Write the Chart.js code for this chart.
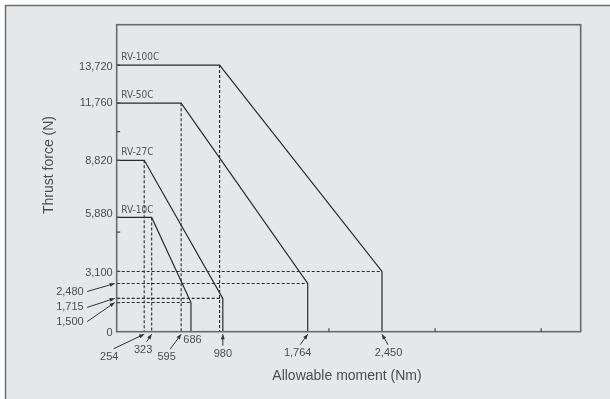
<!DOCTYPE html>
<html>
<head>
<meta charset="utf-8">
<script src="https://cdn.jsdelivr.net/npm/chart.js@4/dist/chart.umd.min.js"></script>
<style>
  html, body { margin: 0; padding: 0; background: #fff; }
  #wrap { width: 610px; height: 399px; }
</style>
</head>
<body>
<div id="wrap"><canvas id="thrustChart" width="610" height="399"></canvas></div>
<script>
// --- data ---
const models = ['RV-10C', 'RV-27C', 'RV-50C', 'RV-100C'];
const ratedThrust = [5880, 8820, 11760, 13720];   // N, flat part of each curve
const kneeMoment = [323, 254, 595, 950];          // Nm where the thrust starts to drop
const maxMoment = [686, 980, 1764, 2450];         // Nm, allowable moment
const endThrust = [1500, 1715, 2480, 3100];       // N at the allowable moment

const yTickValues = [13720, 11760, 8820, 5880, 3100, 2480, 1715, 1500, 0];
const yTickLabels = ['13,720', '11,760', '8,820', '5,880', '3,100', '2,480', '1,715', '1,500', '0'];
const yMinorTicks = [10300, 5120];
const xTickValues = [254, 323, 595, 686, 980, 1764, 2450];
const xTickLabels = ['254', '323', '595', '686', '980', '1,764', '2,450'];
const xMinorTicks = [1960, 2940, 3920];

// --- label placement (offsets from the tick position, pixels) ---
const yLabelShift = [[0, 1.5], [0, 0], [0, 0.5], [0, -3], [0, 2], [-29, 8], [-29, 9], [-29, 19], [0, 1.5]];
const yLeader = [false, false, false, false, false, true, true, true, false];
const xLabelShift = [[-35, 25], [-8.5, 18], [-14.5, 25.5], [1.5, 8], [0, 22], [-10, 21], [6.5, 21]];
const xLeaderStart = [4.5, 3.5, 3.5, null, 0, 2.5, -0.5];

const INK = '#2a2a2a';
const TEXT = '#4d4d4d';
const FONT = "'Liberation Sans', Arial, sans-serif";
const NARROW = "'Liberation Sans Narrow', 'DejaVu Sans Condensed', sans-serif";

const solidSets = models.map((m, i) => ({
  label: m,
  data: [
    { x: 0, y: ratedThrust[i] },
    { x: kneeMoment[i], y: ratedThrust[i] },
    { x: maxMoment[i], y: endThrust[i] },
    { x: maxMoment[i], y: 0 }
  ],
  showLine: true,
  borderColor: INK,
  borderWidth: 1.2,
  pointRadius: 0,
  fill: false
}));

const dashedSets = [];
models.forEach((m, i) => {
  dashedSets.push({
    data: [{ x: kneeMoment[i], y: ratedThrust[i] }, { x: kneeMoment[i], y: 0 }],
    showLine: true, borderColor: INK, borderWidth: 1.1, borderDash: [3, 2], pointRadius: 0
  });
  dashedSets.push({
    data: [{ x: 0, y: endThrust[i] }, { x: maxMoment[i], y: endThrust[i] }],
    showLine: true, borderColor: INK, borderWidth: 1.1, borderDash: [3, 2], pointRadius: 0
  });
});

function arrow(ctx, x1, y1, x2, y2) {
  ctx.beginPath();
  ctx.moveTo(x1, y1);
  ctx.lineTo(x2, y2);
  ctx.stroke();
  const a = Math.atan2(y2 - y1, x2 - x1);
  const len = 5, w = 2;
  ctx.beginPath();
  ctx.moveTo(x2, y2);
  ctx.lineTo(x2 - len * Math.cos(a) + w * Math.sin(a), y2 - len * Math.sin(a) - w * Math.cos(a));
  ctx.lineTo(x2 - len * Math.cos(a) - w * Math.sin(a), y2 - len * Math.sin(a) + w * Math.cos(a));
  ctx.closePath();
  ctx.fill();
}

const decor = {
  id: 'decor',
  beforeDraw(chart) {
    const ctx = chart.ctx;
    ctx.save();
    ctx.fillStyle = '#fff';
    ctx.fillRect(0, 0, chart.width, chart.height);
    ctx.fillStyle = '#e6e7e8';
    ctx.fillRect(5, 5, chart.width, chart.height);
    ctx.strokeStyle = '#6d6e70';
    ctx.lineWidth = 1.5;
    ctx.beginPath();
    ctx.moveTo(5.5, chart.height + 2);
    ctx.lineTo(5.5, 5.5);
    ctx.lineTo(chart.width + 2, 5.5);
    ctx.stroke();
    ctx.restore();
  },
  afterDatasetsDraw(chart) {
    const ctx = chart.ctx;
    const xs = chart.scales.x, ys = chart.scales.y;
    const { left, right, top, bottom } = chart.chartArea;
    ctx.save();

    // plot frame
    ctx.strokeStyle = '#6a6a6a';
    ctx.lineWidth = 1.6;
    ctx.strokeRect(left, top, right - left, bottom - top);

    // inner tick marks
    ctx.strokeStyle = '#444';
    ctx.lineWidth = 1.2;
    ctx.beginPath();
    yTickValues.concat(yMinorTicks).forEach(v => {
      if (v === 0) return;
      const py = ys.getPixelForValue(v);
      ctx.moveTo(left, py);
      ctx.lineTo(left + 3.5, py);
    });
    xMinorTicks.forEach(v => {
      const px = xs.getPixelForValue(v);
      ctx.moveTo(px, bottom);
      ctx.lineTo(px, bottom - 3.5);
    });
    ctx.stroke();

    // series names
    ctx.fillStyle = '#555';
    ctx.font = '10px ' + NARROW;
    ctx.textAlign = 'left';
    ctx.textBaseline = 'middle';
    models.forEach((m, i) => {
      ctx.fillText(m, left + 4.5, ys.getPixelForValue(ratedThrust[i]) - 7.5);
    });

    // y tick labels
    ctx.font = '11px ' + FONT;
    ctx.fillStyle = TEXT;
    ctx.strokeStyle = '#333';
    ctx.lineWidth = 1;
    ctx.textAlign = 'right';
    yTickValues.forEach((v, i) => {
      const py = ys.getPixelForValue(v);
      const lx = left - 4 + yLabelShift[i][0];
      const ly = py + yLabelShift[i][1];
      ctx.fillStyle = TEXT;
      ctx.fillText(yTickLabels[i], lx, ly);
      if (yLeader[i]) {
        ctx.fillStyle = '#333';
        arrow(ctx, lx + 3.5, ly, left - 2, py);
      }
    });

    // x tick labels
    ctx.textAlign = 'center';
    xTickValues.forEach((v, i) => {
      const px = xs.getPixelForValue(v);
      const lx = px + xLabelShift[i][0];
      const ly = bottom + xLabelShift[i][1];
      ctx.fillStyle = TEXT;
      ctx.fillText(xTickLabels[i], lx, ly);
      if (xLeaderStart[i] !== null) {
        ctx.fillStyle = '#333';
        arrow(ctx, lx + xLeaderStart[i], ly - 8, px, bottom + 2.5);
      }
    });

    // axis titles
    ctx.fillStyle = TEXT;
    ctx.font = '14px ' + FONT;
    ctx.fillText('Allowable moment (Nm)', 347, 376);
    ctx.translate(49, 165);
    ctx.rotate(-Math.PI / 2);
    ctx.fillText('Thrust force (N)', 0, 0);
    ctx.restore();
  }
};

new Chart(document.getElementById('thrustChart'), {
  type: 'scatter',
  data: { datasets: dashedSets.concat(solidSets) },
  options: {
    responsive: false,
    animation: false,
    devicePixelRatio: 1,
    layout: { padding: { left: 116.7, right: 29.3, top: 24.7, bottom: 67.3 } },
    plugins: { legend: { display: false }, tooltip: { enabled: false } },
    scales: {
      x: { type: 'linear', min: 0, max: 4285, display: false },
      y: { type: 'linear', min: 0, max: 15800, display: false }
    }
  },
  plugins: [decor]
});
</script>
</body>
</html>
